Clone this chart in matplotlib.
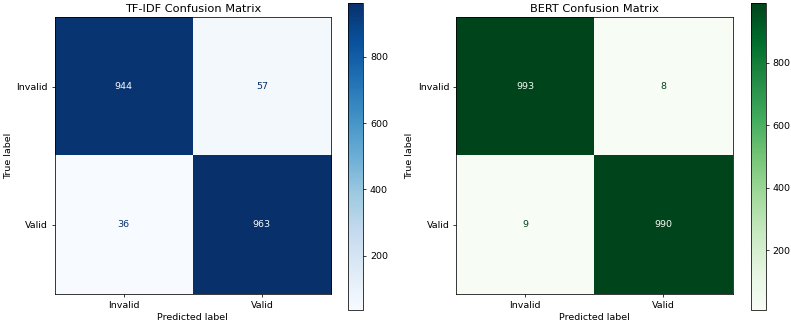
import numpy as np
import matplotlib
matplotlib.use("Agg")
import matplotlib.pyplot as plt

labels = ["Invalid", "Valid"]
tfidf_cm = np.array([[944, 57], [36, 963]])
bert_cm = np.array([[993, 8], [9, 990]])

# the original looks like a default-styled figure shrunk by ~0.68
s = 0.68
plt.rcParams.update({
    "font.size": 10 * s,
    "axes.linewidth": 0.8 * s,
    "xtick.major.size": 3.5 * s,
    "ytick.major.size": 3.5 * s,
    "xtick.major.width": 0.8 * s,
    "ytick.major.width": 0.8 * s,
    "xtick.major.pad": 3.5 * s,
    "ytick.major.pad": 3.5 * s,
})


def draw_cm(fig, ax_rect, cb_rect, cm, cmap_name, title):
    ax = fig.add_axes(ax_rect)
    cax = fig.add_axes(cb_rect)
    cmap = plt.get_cmap(cmap_name)
    im = ax.imshow(cm, interpolation="nearest", cmap=cmap)
    thresh = (cm.max() + cm.min()) / 2.0
    for i in range(cm.shape[0]):
        for j in range(cm.shape[1]):
            color = cmap(0) if cm[i, j] > thresh else cmap(1.0)
            ax.text(j, i, str(cm[i, j]), ha="center", va="center", color=color)
    ax.set_xticks(range(len(labels)))
    ax.set_yticks(range(len(labels)))
    ax.set_xticklabels(labels)
    ax.set_yticklabels(labels)
    ax.set_xlabel("Predicted label", labelpad=4 * s)
    ax.set_ylabel("True label", labelpad=4 * s)
    ax.set_title(title, fontsize=12 * s, pad=6 * s)
    cb = fig.colorbar(im, cax=cax)
    cb.outline.set_linewidth(0.8 * s)
    return ax


fig = plt.figure(figsize=(7.91, 3.24), dpi=100)
draw_cm(fig, [0.0689, 0.0926, 0.3496, 0.8534], [0.4403, 0.0432, 0.019, 0.9485],
        tfidf_cm, "Blues", "TF-IDF Confusion Matrix")
draw_cm(fig, [0.5765, 0.0926, 0.3496, 0.8534], [0.9490, 0.0432, 0.019, 0.9485],
        bert_cm, "Greens", "BERT Confusion Matrix")
fig.savefig("out.png", dpi=100)
